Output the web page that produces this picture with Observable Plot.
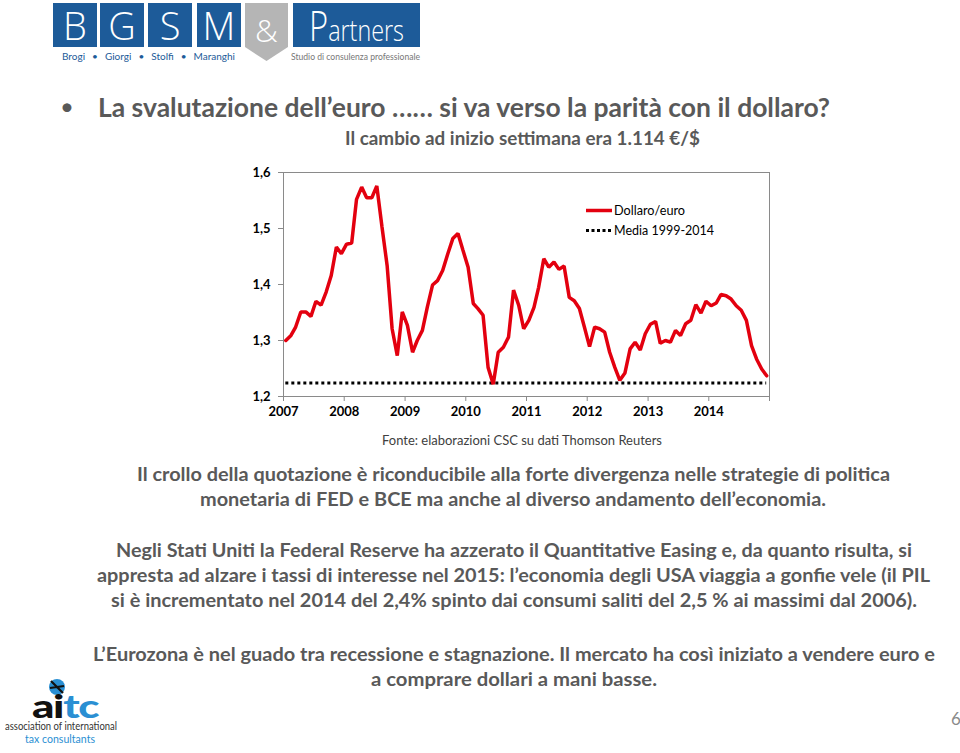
<!DOCTYPE html>
<html>
<head>
<meta charset="utf-8">
<script src="https://cdn.jsdelivr.net/npm/d3@7"></script>
<script src="https://cdn.jsdelivr.net/npm/@observablehq/plot@0.6"></script>
<style>
  html, body { margin: 0; padding: 0; background: #fff; }
  body { width: 960px; height: 753px; position: relative; overflow: hidden; font-family: Lato, "Open Sans", sans-serif; }
  .t { position: absolute; white-space: nowrap; line-height: 1.2; }
  .g { color: #595959; font-weight: 700; }
  .box { position: absolute; background: #1d5b99; }
  .lt { color: #fff; font-family: "Open Sans", Lato, sans-serif; font-weight: 300; }
  #chart { position: absolute; left: 240px; top: 160px; }
</style>
</head>
<body>
<!-- BGSM & Partners logo -->
<div class="box" style="left:53px;top:3px;width:44px;height:44px;"></div>
<div class="box" style="left:100px;top:3px;width:44px;height:44px;"></div>
<div class="box" style="left:148px;top:3px;width:44px;height:44px;"></div>
<div class="box" style="left:197px;top:3px;width:44px;height:44px;"></div>
<div class="box" style="left:245px;top:3px;width:43px;height:58px;background:#b5b5b5;clip-path:polygon(0 0,100% 0,100% 76%,50% 100%,0 76%);"></div>
<div class="box" style="left:293px;top:3px;width:127px;height:44px;"></div>
<div class="t lt ctr" data-cx="75" data-cy="25" style="font-size:38px;line-height:1;">B</div>
<div class="t lt ctr" data-cx="122" data-cy="25" style="font-size:38px;line-height:1;">G</div>
<div class="t lt ctr" data-cx="170" data-cy="25" style="font-size:38px;line-height:1;">S</div>
<div class="t lt ctr" data-cx="219" data-cy="25" style="font-size:38px;line-height:1;">M</div>
<div class="t lt ctr" data-cx="266.5" data-cy="30" style="font-size:32px;line-height:1;">&amp;</div>
<div class="t lt fit" data-l="309" data-r="404" data-cy="25" style="line-height:0.95;"><span style="font-size:42px;">P</span><span style="font-size:30px;">artners</span></div>
<div class="t fit" data-l="62" data-r="235" data-cy="57" style="font-size:9px;color:#1d5b99;word-spacing:4px;">Brogi  •  Giorgi  •  Stolfi  •  Maranghi</div>
<div class="t fit" data-l="291" data-r="420" data-cy="57" style="font-size:9px;color:#777;">Studio di consulenza professionale</div>

<!-- Title -->
<div class="t" style="left:60px;top:92px;font-size:24px;color:#595959;">•</div>
<div class="t g fit" data-l="98" data-r="830" data-cy="107" style="font-size:27px;">La svalutazione dell’euro ……  si va verso la parità con il dollaro?</div>
<div class="t g fit" data-l="345" data-r="700" data-cy="139" style="font-size:18px;">Il cambio ad inizio settimana era 1.114  €/$</div>

<div id="chart"></div>

<!-- Legend -->
<svg style="position:absolute;left:584px;top:205px;" width="30" height="30">
  <line x1="2" x2="28" y1="5.5" y2="5.5" stroke="#e3000f" stroke-width="3.5"/>
  <line x1="2" x2="28" y1="25.5" y2="25.5" stroke="#000" stroke-width="3" stroke-dasharray="3,2.5"/>
</svg>
<div class="t fit" data-l="614" data-r="685" data-cy="210.5" style="font-size:13.5px;color:#000;">Dollaro/euro</div>
<div class="t fit" data-l="614" data-r="714" data-cy="230.5" style="font-size:13.5px;color:#000;">Media 1999-2014</div>

<div class="t fit" data-l="382" data-r="662" data-cy="440" style="font-size:14px;color:#404040;">Fonte: elaborazioni CSC su dati Thomson Reuters</div>

<div class="t g fit" data-l="137" data-r="890" data-cy="474" style="font-size:19px;">Il crollo della quotazione è riconducibile alla forte divergenza nelle strategie di politica</div>
<div class="t g fit" data-l="200" data-r="826" data-cy="499" style="font-size:19px;">monetaria di FED e BCE ma anche al diverso andamento dell’economia.</div>

<div class="t g fit" data-l="116" data-r="912" data-cy="551" style="font-size:18px;">Negli Stati Uniti la Federal Reserve ha azzerato il Quantitative Easing e, da quanto risulta, si</div>
<div class="t g fit" data-l="97" data-r="930" data-cy="576" style="font-size:18px;">appresta ad alzare i tassi di interesse nel 2015: l’economia degli USA viaggia a gonfie vele (il PIL</div>
<div class="t g fit" data-l="111" data-r="917" data-cy="601" style="font-size:18px;">si è incrementato nel 2014 del 2,4% spinto dai consumi saliti del 2,5 % ai massimi dal 2006).</div>

<div class="t g fit" data-l="93" data-r="935" data-cy="654" style="font-size:19px;">L’Eurozona è nel guado tra recessione e stagnazione. Il mercato ha così iniziato a vendere euro e</div>
<div class="t g fit" data-l="371" data-r="657" data-cy="679" style="font-size:19px;">a comprare dollari a mani basse.</div>

<!-- aitc logo -->
<svg style="position:absolute;left:46px;top:677px;" width="22" height="20">
  <circle cx="11" cy="10" r="8" fill="#2a8fd3"/>
  <path d="M5 4 L17 16 M4 11 L18 9" stroke="#111" stroke-width="2.2"/>
</svg>
<div class="t fit" data-l="32" data-r="98" data-cy="706" style="font-size:32px;font-weight:900;letter-spacing:-1px;line-height:0.75;"><span style="color:#111;">ai</span><span style="color:#2a8fd3;">tc</span></div>
<div class="t fit" data-l="5" data-r="117" data-cy="725" style="font-size:11px;line-height:1;color:#333;">association of international</div>
<div class="t fit" data-l="25" data-r="95" data-cy="738" style="font-size:11px;line-height:1;color:#2a8fd3;">tax consultants</div>

<div class="t" style="left:951px;top:709px;font-size:17px;color:#8a8a8a;">6</div>

<script>
// ---- Data (monthly averages, Jan 2007 – Dec 2014) ----
const startYear = 2007;
const endYear = 2015;
const dollaroEuro2007 = [1.300, 1.309, 1.324, 1.351, 1.351, 1.343, 1.370, 1.363, 1.387, 1.416, 1.467, 1.455];
const dollaroEuro2008 = [1.472, 1.474, 1.552, 1.574, 1.555, 1.555, 1.576, 1.503, 1.434, 1.321, 1.273, 1.351];
const dollaroEuro2009 = [1.327, 1.279, 1.300, 1.318, 1.360, 1.399, 1.407, 1.425, 1.455, 1.482, 1.491, 1.461];
const dollaroEuro2010 = [1.431, 1.366, 1.357, 1.345, 1.252, 1.222, 1.279, 1.288, 1.306, 1.390, 1.363, 1.321];
const dollaroEuro2011 = [1.336, 1.359, 1.395, 1.446, 1.431, 1.440, 1.427, 1.433, 1.377, 1.371, 1.357, 1.324];
const dollaroEuro2012 = [1.289, 1.324, 1.321, 1.315, 1.279, 1.252, 1.229, 1.242, 1.285, 1.297, 1.283, 1.312];
const dollaroEuro2013 = [1.329, 1.334, 1.295, 1.300, 1.297, 1.318, 1.309, 1.330, 1.336, 1.364, 1.349, 1.370];
const dollaroEuro2014 = [1.362, 1.367, 1.382, 1.380, 1.374, 1.362, 1.354, 1.336, 1.291, 1.267, 1.249, 1.237];
const media19992014 = 1.224;
const yTicks = [1.2, 1.3, 1.4, 1.5, 1.6];
const xTickLabels = ["2007", "2008", "2009", "2010", "2011", "2012", "2013", "2014", ""];

const values = [].concat(dollaroEuro2007, dollaroEuro2008, dollaroEuro2009, dollaroEuro2010,
  dollaroEuro2011, dollaroEuro2012, dollaroEuro2013, dollaroEuro2014);
// monthly averages, placed mid-month
const data = values.map((v, i) => ({
  date: new Date(Date.UTC(startYear, i, 15)),
  value: v
}));
const yearTicks = xTickLabels.map((_, i) => new Date(Date.UTC(startYear + i, 0, 1)));

const chart = Plot.plot({
  width: 540,
  height: 266,
  marginLeft: 43,
  marginRight: 11,
  marginTop: 12,
  marginBottom: 30,
  style: { fontFamily: "Lato, sans-serif", fontSize: "13px", fontWeight: "700", background: "transparent", color: "#000" },
  x: { type: "utc", domain: [new Date(Date.UTC(startYear, 0, 1)), new Date(Date.UTC(endYear, 0, 1))] },
  y: { domain: [1.2, 1.6] },
  marks: [
    Plot.frame({ stroke: "#8a8a8a" }),
    Plot.axisY({ ticks: yTicks, tickFormat: d => d.toFixed(1).replace(".", ","), tickSize: 5, tickPadding: 8, stroke: "#8a8a8a", fill: "#000", label: null }),
    Plot.axisX({ ticks: yearTicks, tickFormat: (d, i) => xTickLabels[i], tickSize: 5, tickPadding: 5, stroke: "#8a8a8a", fill: "#000", label: null }),
    Plot.ruleY([media19992014], { x1: data[0].date, x2: data[data.length - 1].date, stroke: "#000", strokeWidth: 3, strokeDasharray: "3,3" }),
    Plot.lineY(data, { x: "date", y: "value", stroke: "#e3000f", strokeWidth: 3.5, strokeLinejoin: "miter" })
  ]
});
document.getElementById("chart").appendChild(chart);

// Fit text lines to their measured extents
document.querySelectorAll(".fit").forEach(el => {
  const l = +el.dataset.l, r = +el.dataset.r, cy = +el.dataset.cy;
  const rect = el.getBoundingClientRect();
  const s = (r - l) / rect.width;
  el.style.left = l + "px";
  el.style.top = (cy - rect.height / 2) + "px";
  el.style.transformOrigin = "0 50%";
  el.style.transform = `scaleX(${s})`;
});
document.querySelectorAll(".ctr").forEach(el => {
  const rect = el.getBoundingClientRect();
  el.style.left = (+el.dataset.cx - rect.width / 2) + "px";
  el.style.top = (+el.dataset.cy - rect.height / 2) + "px";
});
</script>
</body>
</html>
